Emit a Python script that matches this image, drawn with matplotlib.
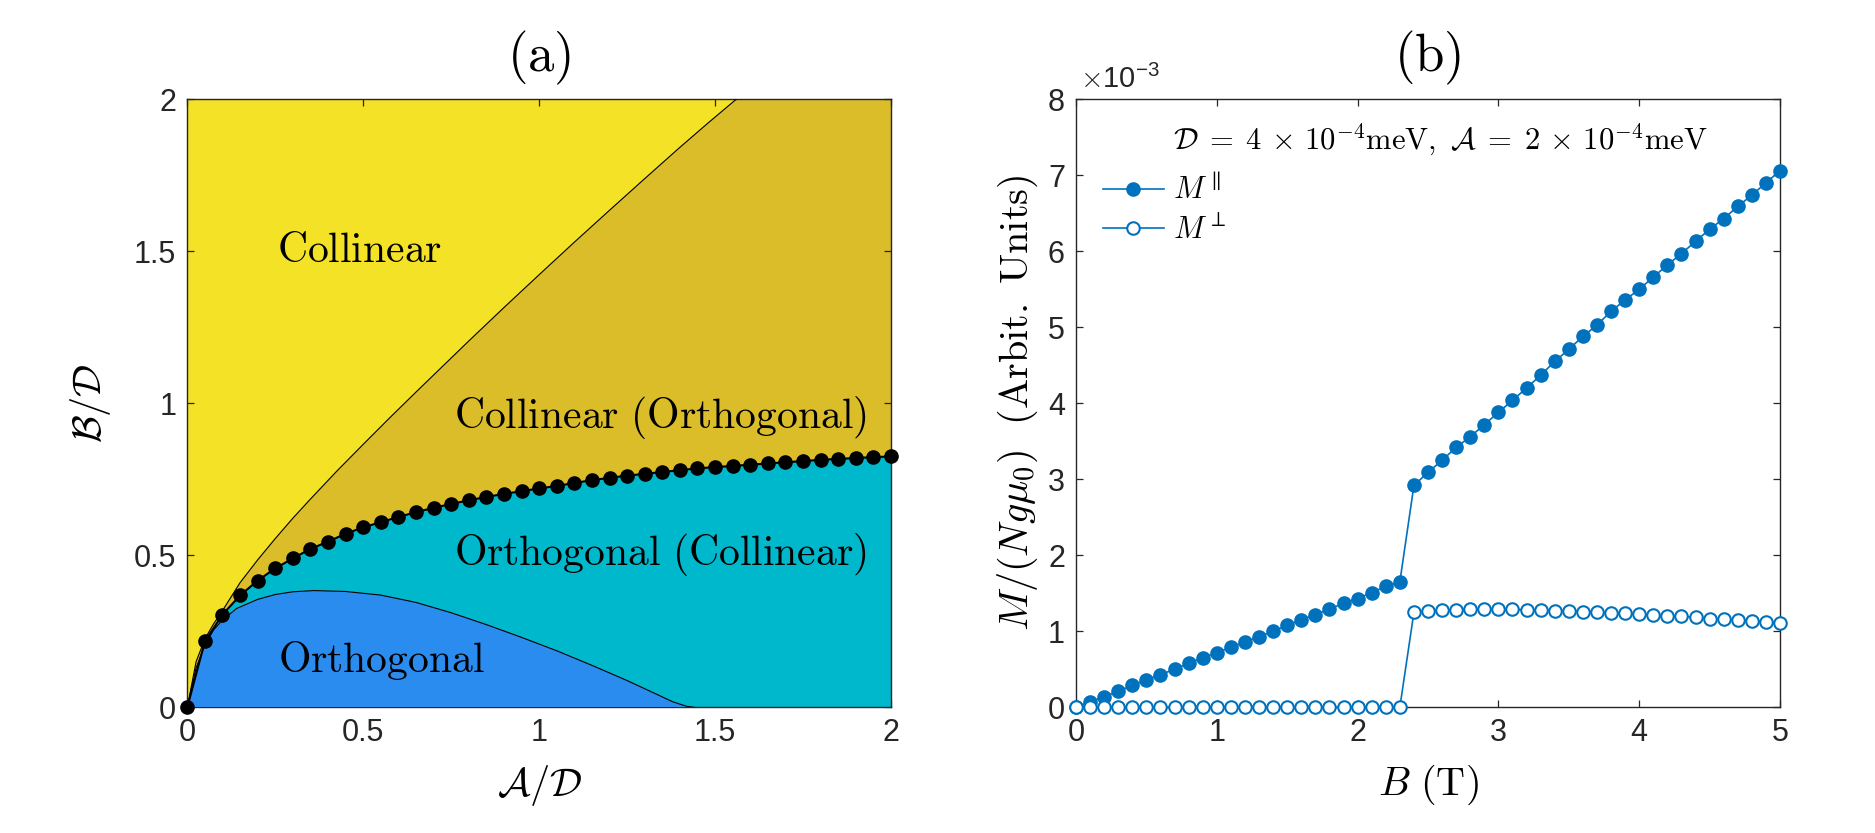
import numpy as np
import matplotlib
matplotlib.use("Agg")
import matplotlib.pyplot as plt

plt.rcParams['font.family'] = ['Liberation Sans', 'DejaVu Sans']
plt.rcParams['mathtext.fontset'] = 'cm'

# ---------------- data: panel (a) phase diagram ----------------
dots_A = [0.00, 0.05, 0.10, 0.15, 0.20, 0.25, 0.30, 0.35, 0.40, 0.45, 0.50,
          0.55, 0.60, 0.65, 0.70, 0.75, 0.80, 0.85, 0.90, 0.95, 1.00,
          1.05, 1.10, 1.15, 1.20, 1.25, 1.30, 1.35, 1.40, 1.45, 1.50,
          1.55, 1.60, 1.65, 1.70, 1.75, 1.80, 1.85, 1.90, 1.95, 2.00]
dots_B = [0.000, 0.217, 0.305, 0.368, 0.417, 0.457, 0.490, 0.521, 0.545, 0.571, 0.592,
          0.609, 0.626, 0.642, 0.656, 0.669, 0.681, 0.692, 0.702, 0.711, 0.720,
          0.728, 0.738, 0.747, 0.755, 0.762, 0.768, 0.774, 0.780, 0.786, 0.790,
          0.794, 0.798, 0.802, 0.806, 0.810, 0.814, 0.817, 0.820, 0.823, 0.825]

upper_A = [0.00, 0.025, 0.05, 0.075, 0.10, 0.15, 0.20, 0.25, 0.30, 0.35, 0.425, 0.50, 0.575,
           0.65, 0.725, 0.80, 0.90, 1.00, 1.10, 1.20, 1.30, 1.40, 1.48, 1.56]
upper_B = [0.000, 0.150, 0.225, 0.275, 0.318, 0.410, 0.485, 0.555, 0.622, 0.685, 0.777, 0.865, 0.952,
           1.037, 1.121, 1.205, 1.315, 1.423, 1.530, 1.635, 1.739, 1.842, 1.922, 2.000]

lower_A = [0.00, 0.025, 0.05, 0.075, 0.10, 0.14, 0.20, 0.25, 0.30, 0.36, 0.45, 0.55, 0.65, 0.75,
           0.85, 0.95, 1.05, 1.15, 1.25, 1.33, 1.38, 1.42, 1.44]
lower_B = [0.000, 0.130, 0.205, 0.255, 0.287, 0.325, 0.355, 0.371, 0.380, 0.384, 0.381, 0.369,
           0.345, 0.311, 0.272, 0.230, 0.186, 0.138, 0.088, 0.045, 0.018, 0.003, 0.000]

region_labels = ['Collinear', 'Collinear\\ (Orthogonal)', 'Orthogonal\\ (Collinear)', 'Orthogonal']

# ---------------- data: panel (b) magnetisation ----------------
B_field = [round(0.1 * i, 1) for i in range(51)]
M_par = [0.00, 0.07, 0.14, 0.21, 0.29, 0.36, 0.43, 0.50, 0.58, 0.65,
         0.72, 0.79, 0.86, 0.93, 1.00, 1.08, 1.15, 1.22, 1.29, 1.37,
         1.43, 1.51, 1.59, 1.65, 2.92, 3.09, 3.25, 3.42, 3.56, 3.72,
         3.88, 4.04, 4.20, 4.37, 4.55, 4.71, 4.88, 5.03, 5.21, 5.36,
         5.50, 5.66, 5.82, 5.97, 6.13, 6.29, 6.43, 6.59, 6.74, 6.90,
         7.06]
M_perp = [0.0] * 24 + [1.250, 1.263, 1.276, 1.285, 1.289, 1.290, 1.290, 1.288, 1.283,
                       1.278, 1.272, 1.265, 1.258, 1.250, 1.245, 1.237, 1.224, 1.211,
                       1.202, 1.195, 1.184, 1.168, 1.158, 1.149, 1.140, 1.120, 1.105]

# ---------------- colours ----------------
c_yellow = '#F4E227'
c_olive = '#DBBD2A'
c_cyan = '#00B8CC'
c_blue = '#2B8CF0'
c_line = '#0072BD'
c_axis = '#262626'

fig = plt.figure(figsize=(18.75, 8.33), dpi=100)
W, H = 1875.0, 833.0
ax1 = fig.add_axes([187.3 / W, 1 - 707.3 / H, 703.7 / W, 608 / H])
ax2 = fig.add_axes([1076 / W, 1 - 707.3 / H, 704 / W, 608 / H])

for ax in (ax1, ax2):
    for s in ax.spines.values():
        s.set_color(c_axis)
        s.set_linewidth(1.0)
    ax.tick_params(direction='in', length=5, width=0.9, color=c_axis,
                   labelcolor=c_axis, labelsize=22, top=True, right=True, pad=8)

# ---- panel (a) ----
ax1.set_xlim(0, 2)
ax1.set_ylim(0, 2)
ax1.set_facecolor(c_yellow)
ax1.fill(list(upper_A) + [2, 2, 0], list(upper_B) + [2, 0, 0], color=c_olive, lw=0, zorder=1)
ax1.fill(list(dots_A) + [2, 0], list(dots_B) + [0, 0], color=c_cyan, lw=0, zorder=2)
ax1.fill(list(lower_A) + [0], list(lower_B) + [0], color=c_blue, lw=0, zorder=3)
ax1.plot(upper_A, upper_B, color='k', lw=0.8, zorder=4)
ax1.plot(lower_A, lower_B, color='k', lw=0.8, zorder=4)
ax1.plot(dots_A, dots_B, color='k', lw=1.5, marker='o', ms=9.5, mfc='k', mec='k',
         zorder=5, clip_on=False)
ax1.set_xticks([0, 0.5, 1, 1.5, 2])
ax1.set_xticklabels(['0', '0.5', '1', '1.5', '2'])
ax1.set_yticks([0, 0.5, 1, 1.5, 2])
ax1.set_yticklabels(['0', '0.5', '1', '1.5', '2'])

ax1.text(0.256, 1.466, r'$\mathrm{%s}$' % region_labels[0], fontsize=30, ha='left', va='baseline', zorder=6)
ax1.text(0.758, 0.918, r'$\mathrm{%s}$' % region_labels[1], fontsize=30, ha='left', va='baseline', zorder=6)
ax1.text(0.758, 0.468, r'$\mathrm{%s}$' % region_labels[2], fontsize=30, ha='left', va='baseline', zorder=6)
ax1.text(0.259, 0.117, r'$\mathrm{%s}$' % region_labels[3], fontsize=30, ha='left', va='baseline', zorder=6)

ax1.text(0.5, 1.068, r'$\mathrm{(a)}$', transform=ax1.transAxes, fontsize=38, ha='center', va='center')
ax1.text(0.5, -0.128, r'$\mathcal{A}/\mathcal{D}$', transform=ax1.transAxes, fontsize=29, ha='center', va='center')
ax1.text(-0.138, 0.5, r'$\mathcal{B}/\mathcal{D}$', transform=ax1.transAxes, fontsize=29, ha='center',
         va='center', rotation=90)

# ---- panel (b) ----
ax2.set_xlim(0, 5)
ax2.set_ylim(0, 8)
l1, = ax2.plot(B_field, M_par, color=c_line, lw=1.2, marker='o', ms=9.5, mfc=c_line, mec=c_line,
               clip_on=False, zorder=3)
l2, = ax2.plot(B_field, M_perp, color=c_line, lw=1.2, marker='o', ms=9.0, mfc='white', mec=c_line,
               mew=1.5, clip_on=False, zorder=3)
ax2.set_xticks([0, 1, 2, 3, 4, 5])
ax2.set_yticks([0, 1, 2, 3, 4, 5, 6, 7, 8])
ax2.text(0.006, 1.032, r'$\times\mathregular{10^{-3}}$', transform=ax2.transAxes, fontsize=21,
         ha='left', va='center', color=c_axis)
ax2.text(0.5, 1.068, r'$\mathrm{(b)}$', transform=ax2.transAxes, fontsize=38, ha='center', va='center')
ax2.text(0.5, -0.128, r'$B\ (\mathrm{T})$', transform=ax2.transAxes, fontsize=29, ha='center', va='center')
ax2.text(-0.0824, 0.5, r'$M/(Ng\mu_0)\ \ \mathrm{(Arbit.\ Units)}$', transform=ax2.transAxes,
         fontsize=29, ha='center', va='center', rotation=90)
ax2.text(0.517, 0.933,
         r'$\mathcal{D}\;=\;4\,\times\,10^{-4}\mathrm{meV},\ \mathcal{A}\;=\;2\,\times\,10^{-4}\mathrm{meV}$',
         transform=ax2.transAxes, fontsize=22, ha='center', va='center')
ax2.legend([l1, l2], [r'$M^{\parallel}$', r'$M^{\perp}$'], loc='upper left',
           bbox_to_anchor=(0.038, 0.875), frameon=False, fontsize=22, handlelength=2.0,
           handletextpad=0.3, labelspacing=0.3, borderpad=0, borderaxespad=0)

fig.savefig('out.png', dpi=100)
